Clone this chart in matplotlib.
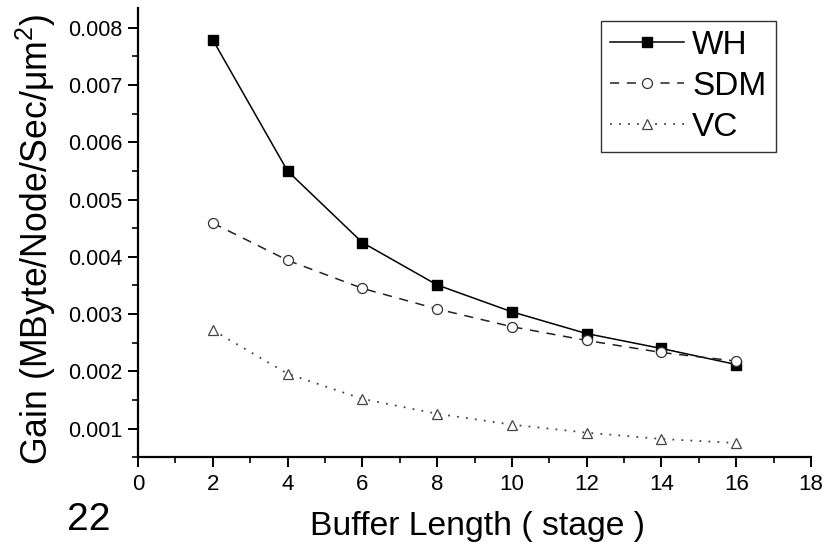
import matplotlib
matplotlib.use("Agg")
import matplotlib.pyplot as plt
from matplotlib.ticker import MultipleLocator, FormatStrFormatter

plt.rcParams['font.family'] = ['Liberation Sans', 'DejaVu Sans']
plt.rcParams['mathtext.fontset'] = 'custom'
plt.rcParams['mathtext.rm'] = 'Liberation Sans'
plt.rcParams['mathtext.it'] = 'Liberation Sans:italic'

buffer_length = [2, 4, 6, 8, 10, 12, 14, 16]
wh = [0.00779, 0.00550, 0.00425, 0.00351, 0.00304, 0.00266, 0.00240, 0.00212]
sdm = [0.00459, 0.00394, 0.00345, 0.00309, 0.00278, 0.00254, 0.00233, 0.00218]
vc = [0.00272, 0.00196, 0.00152, 0.00126, 0.00107, 0.00093, 0.00082, 0.00075]
series_names = ["WH", "SDM", "VC"]

fig = plt.figure(figsize=(8.23, 5.45), dpi=100)
ax = fig.add_axes([138/823, (545 - 457.3)/545, 673/823, 449/545])

ax.plot(buffer_length, wh, color='black', lw=1.1, ls='-', marker='s',
        ms=7, mfc='black', mec='black', label=series_names[0])
ax.plot(buffer_length, sdm, color='#222222', lw=1.1, ls=(0, (6, 5)), marker='o',
        ms=7.2, mfc='white', mec='#333333', mew=0.9, label=series_names[1])
ax.plot(buffer_length, vc, color='#444444', lw=1.3, ls=(0, (1, 4)), marker='^',
        ms=7.8, mfc='white', mec='#444444', mew=0.9, label=series_names[2])

ax.set_xlim(0, 18)
ax.set_ylim(0.0005, 0.00834)
ax.xaxis.set_major_locator(MultipleLocator(2))
ax.xaxis.set_minor_locator(MultipleLocator(1))
ax.yaxis.set_minor_locator(MultipleLocator(0.0005))
ax.set_yticks([0.001, 0.002, 0.003, 0.004, 0.005, 0.006, 0.007, 0.008])
ax.yaxis.set_major_formatter(FormatStrFormatter('%.3f'))

for s in ['top', 'right']:
    ax.spines[s].set_visible(False)
for s in ['left', 'bottom']:
    ax.spines[s].set_linewidth(1.6)

ax.tick_params(axis='both', which='major', direction='out', length=7, width=1.4)
ax.tick_params(axis='both', which='minor', direction='out', length=4, width=1.2)
ax.tick_params(axis='y', which='major', pad=4, labelsize=15.5)
ax.tick_params(axis='x', which='major', pad=5, labelsize=16)

leg = ax.legend(loc='upper left', bbox_to_anchor=(601/823, 1 - 20.7/545),
                bbox_transform=fig.transFigure, fontsize=24, frameon=True,
                fancybox=False, shadow=False, borderpad=0.28, labelspacing=0.3,
                handlelength=2.2, handletextpad=0.25, borderaxespad=0)
leg.get_frame().set_edgecolor('black')
leg.get_frame().set_linewidth(1.0)

fig.text(36/823, 1 - 239/545, "Gain (MByte/Node/Sec/μm$^{2}$)", rotation=90,
         ha='center', va='center', fontsize=25.7)
fig.text(477/823, 1 - 527/545, "Buffer Length ( stage )", ha='center',
         va='center', fontsize=24.3)
fig.text(89/823, 1 - 520/545, "22", ha='center', va='center', fontsize=28)

fig.savefig("out.png", dpi=100)
